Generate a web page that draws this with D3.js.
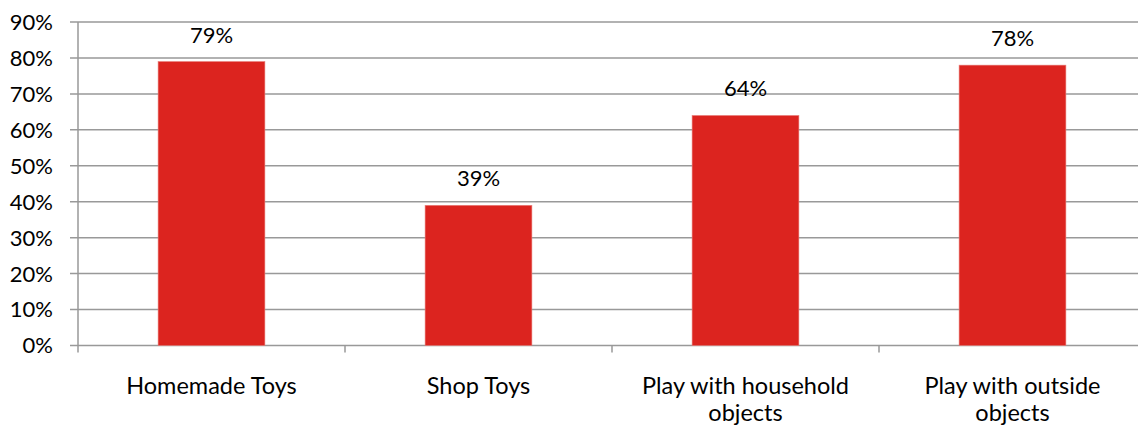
<!DOCTYPE html>
<html>
<head>
<meta charset="utf-8">
<script src="https://cdn.jsdelivr.net/npm/d3@7"></script>
<style>
  html, body { margin: 0; padding: 0; background: #fff; }
  svg { display: block; }
  text { font-family: Lato, "Open Sans", sans-serif; fill: #000; }
</style>
</head>
<body>
<div id="chart"></div>
<script>
// Share of children by type of play
const categories = ["Homemade Toys", "Shop Toys", "Play with household objects", "Play with outside objects"];
const categoryLines = [["Homemade Toys"], ["Shop Toys"], ["Play with household", "objects"], ["Play with outside", "objects"]];
const values = [79, 39, 64, 78];
const valueLabels = ["79%", "39%", "64%", "78%"];
const yTicks = [0, 10, 20, 30, 40, 50, 60, 70, 80, 90];

const width = 1138, height = 431;
const plotLeft = 78, plotTop = 22, plotBottom = 345.5;
const step = 267;
const plotRight = plotLeft + step * categories.length; // runs past the right edge

const svg = d3.select("#chart").append("svg")
  .attr("width", width).attr("height", height);

const y = d3.scaleLinear().domain([0, 90]).range([plotBottom, plotTop]);

// category slots for tick marks and labels
const xSlot = d3.scaleBand().domain(categories).range([plotLeft, plotRight]).padding(0);
// bars inside each slot
const xBar = d3.scaleBand().domain(categories).range([plotLeft, plotRight])
  .paddingInner(0.6).paddingOuter(0.3);

const gridColor = "#999999";

// horizontal gridlines with short left ticks
svg.append("g").selectAll("line").data(yTicks).join("line")
  .attr("x1", plotLeft - 8).attr("x2", width)
  .attr("y1", d => y(d)).attr("y2", d => y(d))
  .attr("stroke", gridColor).attr("stroke-width", 1.5);

// y axis labels
svg.append("g").selectAll("text").data(yTicks).join("text")
  .attr("x", 53).attr("y", d => y(d))
  .attr("dy", "0.36em")
  .attr("text-anchor", "end")
  .style("font-size", "22px")
  .text(d => d + "%");

// y axis line
svg.append("line")
  .attr("x1", plotLeft).attr("x2", plotLeft)
  .attr("y1", plotTop).attr("y2", plotBottom + 7)
  .attr("stroke", gridColor).attr("stroke-width", 1.5);

// category tick marks at slot boundaries
svg.append("g").selectAll("line").data(categories.slice(1)).join("line")
  .attr("x1", d => xSlot(d)).attr("x2", d => xSlot(d))
  .attr("y1", plotBottom).attr("y2", plotBottom + 7)
  .attr("stroke", gridColor).attr("stroke-width", 1.5);

// bars
svg.append("g").selectAll("rect").data(categories).join("rect")
  .attr("x", d => xBar(d))
  .attr("width", xBar.bandwidth())
  .attr("y", (d, i) => y(values[i]))
  .attr("height", (d, i) => y(0) - y(values[i]))
  .attr("fill", "#dc241f")
  .attr("stroke", "#e8807c").attr("stroke-width", 0.6);

// value labels above bars
svg.append("g").selectAll("text").data(categories).join("text")
  .attr("x", d => xBar(d) + xBar.bandwidth() / 2)
  .attr("y", (d, i) => y(values[i]) - 19)
  .attr("text-anchor", "middle")
  .style("font-size", "22px")
  .text((d, i) => valueLabels[i]);

// category labels, wrapped
const catG = svg.append("g").selectAll("text").data(categories).join("text")
  .attr("text-anchor", "middle")
  .style("font-size", "23.5px");
catG.each(function(d, i) {
  const t = d3.select(this);
  categoryLines[i].forEach((line, j) => {
    t.append("tspan")
      .attr("x", xSlot(d) + xSlot.bandwidth() / 2)
      .attr("y", 394 + j * 27)
      .text(line);
  });
});
</script>
</body>
</html>
